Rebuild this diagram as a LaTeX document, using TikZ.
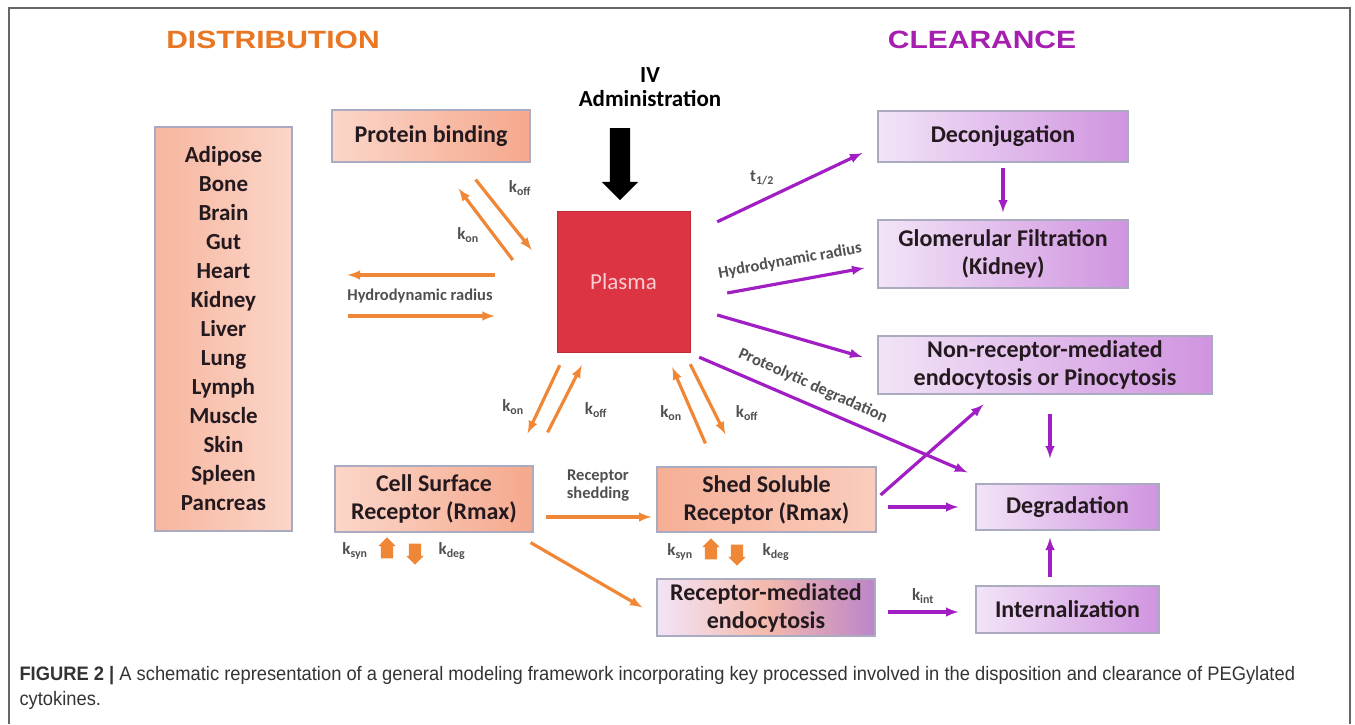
\documentclass[tikz,border=0pt]{standalone}
\usepackage{fontspec}
\setmainfont{Carlito}
\newfontfamily\titlefont{Liberation Sans}[FakeStretch=1.2]
\newfontfamily\capfont{Liberation Sans}[FakeStretch=0.94]
\usepackage{tikz}
\usetikzlibrary{arrows,shapes.arrows}

\definecolor{orarrow}{RGB}{240,135,55}
\definecolor{purarrow}{RGB}{160,30,195}
\definecolor{distcol}{RGB}{232,118,34}
\definecolor{clrcol}{RGB}{165,30,175}
\definecolor{plasmared}{RGB}{220,52,66}
\definecolor{plasmatext}{RGB}{250,205,210}
\definecolor{boxline}{RGB}{170,170,192}
\definecolor{boxtext}{RGB}{35,25,30}
\definecolor{labgray}{RGB}{80,80,80}
\definecolor{oL}{RGB}{251,214,201}
\definecolor{oR}{RGB}{245,168,140}
\definecolor{pL}{RGB}{242,228,247}
\definecolor{pR}{RGB}{208,148,224}

\begin{document}
\begin{tikzpicture}[x=1pt,y=-1pt,>=latex,
  box/.style={draw=boxline,line width=1.2pt,text=boxtext,align=center,inner sep=2pt,
    font=\fontsize{24}{28}\selectfont\bfseries},
  obox/.style={box,left color=oL,right color=oR},
  pbox/.style={box,left color=pL,right color=pR},
  oarr/.style={->,draw=orarrow,line width=3.2pt},
  parr/.style={->,draw=purarrow,line width=3.2pt},
  klab/.style={text=labgray,inner sep=1pt,font=\fontsize{17}{17}\selectfont\bfseries},
  blk/.style={single arrow,fill=orarrow,draw=none,inner xsep=0pt,inner ysep=6pt,
    minimum height=21pt,minimum width=17pt,single arrow head extend=2.5pt}]
 %%\tikzstyle{box}=[draw,minimum size=10mm]
 \useasboundingbox (0,0) rectangle (1355,724);
 \draw[gray!80!black,line width=1.5pt] (9,724) -- (9,8) -- (1350,8) -- (1350,724);

 \node[text=distcol,font=\titlefont\fontsize{25}{25}\selectfont\bfseries] at (273,40) (DIST) {DISTRIBUTION};
 \node[text=clrcol,font=\titlefont\fontsize{25}{25}\selectfont\bfseries] at (982,40) (CLR) {CLEARANCE};

 % distribution side
 \node[obox,left color=oR!70!oL,right color=oL,minimum width=137pt,minimum height=404pt,
   font=\fontsize{23}{29}\selectfont\bfseries] at (223.5,329) (ORG)
   {Adipose\\Bone\\Brain\\Gut\\Heart\\Kidney\\Liver\\Lung\\Lymph\\Muscle\\Skin\\Spleen\\Pancreas};
 \node[obox,minimum width=198pt,minimum height=52pt] at (431,136) (PB) {Protein binding};
 \node[fill=plasmared,draw=plasmared!85!black,text=plasmatext,minimum width=133pt,minimum height=141pt,
   font=\fontsize{23}{23}\selectfont] at (623.5,281.5) (PL) {Plasma};
 \node[align=center,font=\fontsize{23}{24}\selectfont\bfseries] at (650,87) (IV) {IV\\Administration};
 \node[single arrow,fill=black,rotate=-90,inner xsep=0pt,inner ysep=10pt,minimum height=72pt,
   single arrow head extend=8pt] at (620,159) (IVA) {};
 \node[obox,minimum width=198pt,minimum height=66pt] at (434,499) (CS) {Cell Surface\\Receptor (Rmax)};
 \node[obox,left color=oR!85!oL,right color=oL!80!oR,minimum width=219pt,minimum height=65pt]
   at (766.5,499.5) (SS) {Shed Soluble\\Receptor (Rmax)};
 \node[box,left color=pL,right color=pR!90!black,middle color=oR!70!pL,minimum width=218pt,minimum height=57pt]
   at (766,607.5) (RM) {Receptor-mediated\\endocytosis};

 % clearance side
 \node[pbox,minimum width=250pt,minimum height=51pt] at (1003,136.5) (DC) {Deconjugation};
 \node[pbox,minimum width=250pt,minimum height=68pt] at (1003,254) (GF) {Glomerular Filtration\\(Kidney)};
 \node[pbox,minimum width=334pt,minimum height=58pt] at (1045,365) (NR)
   {Non-receptor-mediated\\endocytosis or Pinocytosis};
 \node[pbox,minimum width=183pt,minimum height=46pt] at (1067.5,507) (DG) {Degradation};
 \node[pbox,minimum width=183pt,minimum height=47pt] at (1067.5,609.5) (INT) {Internalization};

 % binding / exchange
 \draw[oarr] ([shift={(-44,-21.5)}]PL.west) -- ([shift={(-72,26)}]PB.south east);
 \draw[oarr] ([shift={(-55,17)}]PB.south east) -- ([shift={(-25,-31.5)}]PL.west);
 \node[klab] at (468,235) (KON1) {k\textsubscript{on}};
 \node[klab] at (520,188) (KOFF1) {k\textsubscript{off}};
 \draw[oarr] ([shift={(-62,-6.5)}]PL.west) -- ([shift={(55,-54)}]ORG.east);
 \draw[oarr] ([shift={(55,-13)}]ORG.east) -- ([shift={(-62,34.5)}]PL.west);
 \node[klab,font=\fontsize{16.5}{16.5}\selectfont\bfseries] at (420,296) (HYD1) {Hydrodynamic radius};
 \draw[oarr] ([shift={(3,13)}]PL.south west) -- ([shift={(-6,-32)}]CS.north east);
 \draw[oarr] ([shift={(14,-33)}]CS.north east) -- ([shift={(25,13)}]PL.south west);
 \node[klab] at (513,407) (KON2) {k\textsubscript{on}};
 \node[klab] at (596,410) (KOFF2) {k\textsubscript{off}};
 \draw[oarr] ([shift={(0,12)}]PL.south east) -- ([shift={(69,-32)}]SS.north west);
 \draw[oarr] ([shift={(49,-23)}]SS.north west) -- ([shift={(-18,15)}]PL.south east);
 \node[klab] at (671,413) (KON3) {k\textsubscript{on}};
 \node[klab] at (747,413) (KOFF3) {k\textsubscript{off}};
 \draw[oarr] ([shift={(12,18)}]CS.east) -- ([shift={(-5,17.5)}]SS.west);
 \node[klab,align=center,font=\fontsize{16.5}{18}\selectfont\bfseries] at (598,486) (SHED) {Receptor\\shedding};
 \draw[oarr] ([shift={(-3,10)}]CS.south east) -- ([shift={(-14,0)}]RM.west);

 % synthesis / degradation of receptor
 \node[klab] at (355,551) (KSYN1) {k\textsubscript{syn}};
 \node[blk,rotate=90] at (387,551) (UP1) {};
 \node[blk,rotate=-90] at (415,551) (DN1) {};
 \node[klab] at (452,551) (KDEG1) {k\textsubscript{deg}};
 \node[klab] at (680,552) (KSYN2) {k\textsubscript{syn}};
 \node[blk,rotate=90] at (711,552) (UP2) {};
 \node[blk,rotate=-90] at (737,552) (DN2) {};
 \node[klab] at (776,552) (KDEG2) {k\textsubscript{deg}};

 % clearance routes
 \draw[parr] ([shift={(27,11)}]PL.north east) -- ([shift={(-15,16.5)}]DC.west);
 \node[klab] at (762,178) (THALF) {t\textsubscript{1/2}};
 \draw[parr] ([shift={(37,11.5)}]PL.east) -- ([shift={(-13,14)}]GF.west);
 \node[klab,rotate=10,font=\fontsize{16.5}{16.5}\selectfont\bfseries] at (790,261) (HYD2) {Hydrodynamic radius};
 \draw[parr] ([shift={(27,33.5)}]PL.east) -- ([shift={(-15,-8)}]NR.west);
 \draw[parr] ([shift={(9,5)}]PL.south east) -- ([shift={(-8,-11)}]DG.north west);
 \node[klab,rotate=-24,font=\fontsize{16.5}{16.5}\selectfont\bfseries] at (813,386) (PROT) {Proteolytic degradation};
 \draw[parr] ([shift={(4,-4.5)}]SS.east) -- ([shift={(106,10)}]NR.south west);
 \draw[parr] ([shift={(11,7.5)}]SS.east) -- ([shift={(-17,0)}]DG.west);
 \draw[parr] ([shift={(12,4.5)}]RM.east) -- ([shift={(-17,2.5)}]INT.west);
 \node[klab] at (923,596) (KINT) {k\textsubscript{int}};
 \draw[parr] ([shift={(-17.5,-8)}]INT.north) -- ([shift={(-17.5,7)}]DG.south);
 \draw[parr] ([shift={(5,19)}]NR.south) -- ([shift={(-17.5,-25)}]DG.north);
 \draw[parr] ([shift={(0,5)}]DC.south) -- ([shift={(0,-7)}]GF.north);

 \node[anchor=west,align=left,text=black!80,font=\capfont\fontsize{19.5}{25}\selectfont] at (16,688) (CAP)
   {{\bfseries FIGURE 2 |} A schematic representation of a general modeling framework incorporating key processed involved in the disposition and clearance of PEGylated\\cytokines.};
\end{tikzpicture}
\end{document}
